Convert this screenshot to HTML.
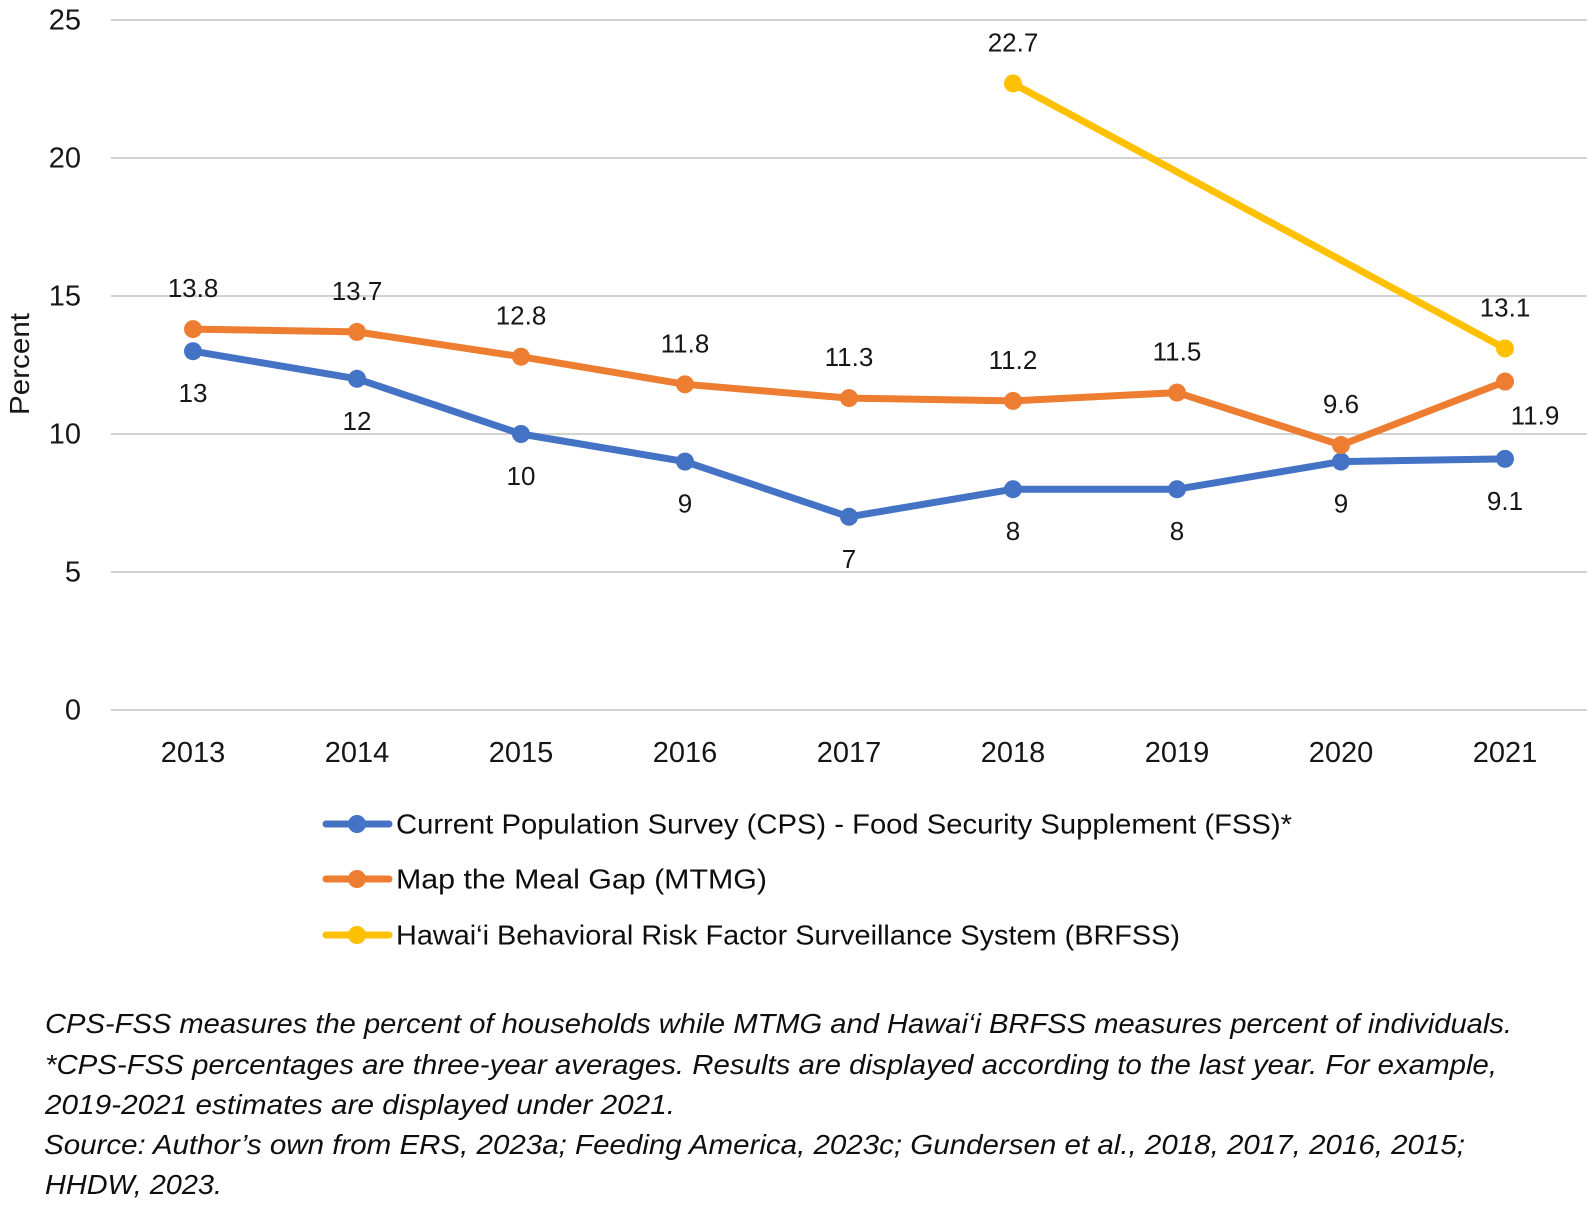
<!DOCTYPE html>
<html lang="en">
<head>
<meta charset="utf-8">
<title>Food insecurity estimates in Hawaiʻi, 2013–2021</title>
<style>
  html, body { margin: 0; padding: 0; background: #fff; }
  body { width: 1595px; height: 1208px; overflow: hidden; }
  svg { display: block; }
  text { font-family: "Liberation Sans", sans-serif; fill: #161616; }
  .foot { font-size: 28px; font-style: italic; fill: #0e0e0e; }
  .leg { font-size: 28px; fill: #0e0e0e; }
</style>
</head>
<body>
<svg id="chart" width="1595" height="1208" viewBox="0 0 1595 1208" xmlns="http://www.w3.org/2000/svg">
  <rect x="0" y="0" width="1595" height="1208" fill="#ffffff"/>
  <g id="grid"></g>
  <g id="yticks"></g>
  <g id="xticks"></g>
  <text transform="translate(29,415) rotate(-90)" font-size="28" textLength="102" lengthAdjust="spacingAndGlyphs">Percent</text>
  <g id="series"></g>
  <g id="labels"></g>

  <g>
    <g>
      <line x1="326" y1="824" x2="389" y2="824" stroke="#4472C4" stroke-width="7" stroke-linecap="round"/>
      <circle cx="357" cy="824" r="9" fill="#4472C4"/>
      <text class="leg" x="396" y="833.5" textLength="896" lengthAdjust="spacingAndGlyphs">Current Population Survey (CPS) - Food Security Supplement (FSS)*</text>
    </g>
    <g>
      <line x1="326" y1="879" x2="389" y2="879" stroke="#ED7D31" stroke-width="7" stroke-linecap="round"/>
      <circle cx="357" cy="879" r="9" fill="#ED7D31"/>
      <text class="leg" x="396" y="888.5" textLength="371" lengthAdjust="spacingAndGlyphs">Map the Meal Gap (MTMG)</text>
    </g>
    <g>
      <line x1="326" y1="935" x2="389" y2="935" stroke="#FFC000" stroke-width="7" stroke-linecap="round"/>
      <circle cx="357" cy="935" r="9" fill="#FFC000"/>
      <text class="leg" x="396" y="944.5" textLength="784" lengthAdjust="spacingAndGlyphs">Hawai‘i Behavioral Risk Factor Surveillance System (BRFSS)</text>
    </g>
  </g>

  <g>
    <text class="foot" x="45" y="1033" textLength="1467" lengthAdjust="spacingAndGlyphs">CPS-FSS measures the percent of households while MTMG and Hawai‘i BRFSS measures percent of individuals.</text>
    <text class="foot" x="45" y="1074" textLength="1452" lengthAdjust="spacingAndGlyphs">*CPS-FSS percentages are three-year averages. Results are displayed according to the last year. For example,</text>
    <text class="foot" x="45" y="1114" textLength="630" lengthAdjust="spacingAndGlyphs">2019-2021 estimates are displayed under 2021.</text>
    <text class="foot" x="44" y="1154" textLength="1421" lengthAdjust="spacingAndGlyphs">Source: Author’s own from ERS, 2023a; Feeding America, 2023c; Gundersen et al., 2018, 2017, 2016, 2015;</text>
    <text class="foot" x="45" y="1194" textLength="177" lengthAdjust="spacingAndGlyphs">HHDW, 2023.</text>
  </g>
</svg>

<script>
const categories = ['2013', '2014', '2015', '2016', '2017', '2018', '2019', '2020', '2021'];
const yTicks = [0, 5, 10, 15, 20, 25];
const cpsValues = [13, 12, 10, 9, 7, 8, 8, 9, 9.1];
const mtmgValues = [13.8, 13.7, 12.8, 11.8, 11.3, 11.2, 11.5, 9.6, 11.9];
const brfssValues = [null, null, null, null, null, 22.7, null, null, 13.1];

const NS = 'http://www.w3.org/2000/svg';
const plot = { left: 111, right: 1587, top: 20, bottom: 710, yMax: 25 };

function xScale(i) {
  return plot.left + (i + 0.5) * (plot.right - plot.left) / categories.length;
}
function yScale(v) {
  return plot.bottom - v * (plot.bottom - plot.top) / plot.yMax;
}
function svgEl(tag, attrs, parent) {
  const el = document.createElementNS(NS, tag);
  Object.keys(attrs).forEach(function (k) { el.setAttribute(k, attrs[k]); });
  parent.appendChild(el);
  return el;
}

const gridG = document.getElementById('grid');
const yG = document.getElementById('yticks');
const xG = document.getElementById('xticks');
const seriesG = document.getElementById('series');
const labelsG = document.getElementById('labels');

yTicks.forEach(function (t) {
  const line = svgEl('line', { x1: plot.left, x2: plot.right, y1: yScale(t), y2: yScale(t), stroke: '#d2d2d2', 'stroke-width': 2 }, gridG);
  
  
  const label = svgEl('text', { x: 81, y: yScale(t) + 9.5, 'text-anchor': 'end', 'font-size': 29 }, yG);
  
  
  label.textContent = String(t);
});

categories.forEach(function (c, i) {
  const label = svgEl('text', { x: xScale(i), y: 762, 'text-anchor': 'middle', 'font-size': 29 }, xG);
  
  
  label.textContent = c;
});

function drawSeries(name, values, color) {
  const pts = [];
  values.forEach(function (v, i) {
    if (v !== null) pts.push([xScale(i), yScale(v)]);
  });
  const line = svgEl('polyline', {
    points: pts.map(function (p) { return p.join(','); }).join(' '),
    fill: 'none', stroke: color, 'stroke-width': 7, 'stroke-linejoin': 'round'
  }, seriesG);
  
  
  values.forEach(function (v, i) {
    if (v === null) return;
    const dot = svgEl('circle', { cx: xScale(i), cy: yScale(v), r: 9, fill: color }, seriesG);
    
    
  });
}

function drawLabels(values, offsetY, lastDx, lastDy) {
  values.forEach(function (v, i) {
    if (v === null) return;
    const isLast = i === values.length - 1;
    const dx = isLast ? lastDx : 0;
    const dy = isLast && lastDy !== null ? lastDy : offsetY;
    const label = svgEl('text', { x: xScale(i) + dx, y: yScale(v) + dy, 'text-anchor': 'middle', 'font-size': 26 }, labelsG);
    
    
    label.textContent = String(v);
  });
}

drawSeries('cps-fss', cpsValues, '#4472C4');
drawSeries('mtmg', mtmgValues, '#ED7D31');
drawSeries('brfss', brfssValues, '#FFC000');

drawLabels(cpsValues, 51, 0, null);
drawLabels(mtmgValues, -32, 30, 43);
drawLabels(brfssValues, -32, 0, null);
</script>
</body>
</html>
